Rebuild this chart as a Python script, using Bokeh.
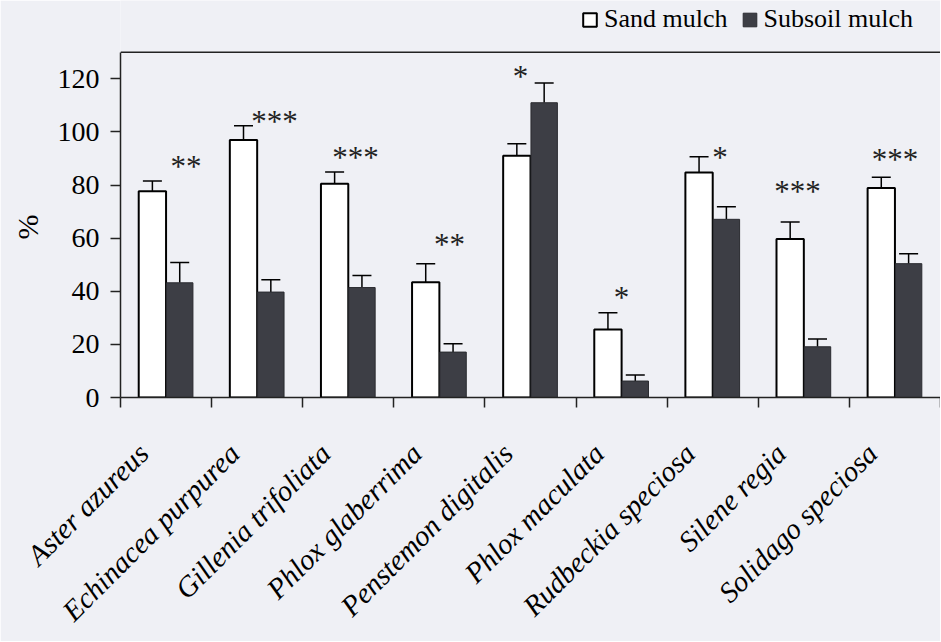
import numpy as np
from math import pi
from bokeh.plotting import figure
from bokeh.models import (Range1d, LinearAxis, FixedTicker, Whisker, Span, Title,
                          ColumnDataSource, Legend, LegendItem, TeeHead)
from bokeh.transform import dodge
from bokeh.core.properties import value
from bokeh.embed import file_html
from bokeh.resources import INLINE

# ---- data ----
categories = ["Aster azureus", "Echinacea purpurea", "Gillenia trifoliata",
              "Phlox glaberrima", "Penstemon digitalis", "Phlox maculata",
              "Rudbeckia speciosa", "Silene regia", "Solidago speciosa"]
sand = [77.7, 97.0, 80.5, 43.4, 91.0, 25.6, 84.7, 59.7, 78.9]
sand_err = [3.8, 5.3, 4.4, 7.0, 4.6, 6.3, 6.0, 6.4, 4.0]
subsoil = [43.2, 39.7, 41.4, 17.1, 111.0, 6.2, 67.1, 19.1, 50.4]
subsoil_err = [7.6, 4.6, 4.5, 3.1, 7.4, 2.3, 4.7, 2.9, 3.7]
signif = ["**", "***", "***", "**", "*", "*", "*", "***", "***"]
signif_y = [88.6, 105.5, 92.0, 59.1, 122.5, 39.1, 91.9, 78.9, 91.0]
signif_dx = [0.22, 0.19, 0.08, 0.11, -0.11, 0.0, 0.08, -0.07, 0.0]
y_ticks = [0, 20, 40, 60, 80, 100, 120]
y_max = 130
y_title = "%"

BG = "#eff0f5"
DARK = "#3d3e45"
FONT = "Liberation Serif"

n = len(categories)
centers = [i + 0.5 for i in range(n)]

src = ColumnDataSource(dict(
    pos=centers, cat=categories, sand=sand, sub=subsoil,
    sand_lo=[v - e for v, e in zip(sand, sand_err)],
    sand_hi=[v + e for v, e in zip(sand, sand_err)],
    sub_hi=[v + e for v, e in zip(subsoil, subsoil_err)],
))

# frame reaches the top of the picture; the chart box ends at y_max,
# the strip above it holds the legend
p = figure(width=940, height=641, x_range=Range1d(0, n),
           y_range=Range1d(0, y_max + 19.5), output_backend="svg",
           toolbar_location=None, x_axis_location=None, y_axis_location=None,
           min_border_left=120, min_border_right=0, min_border_top=0,
           min_border_bottom=242)
p.background_fill_color = BG
p.border_fill_color = BG
p.outline_line_color = None
p.xgrid.visible = False
p.ygrid.visible = False

p.extra_x_ranges = {"lab": Range1d(0.25, n + 0.25)}

# y axis
yaxis = LinearAxis(ticker=FixedTicker(ticks=y_ticks), bounds=(0, y_max),
                   major_tick_out=10, major_tick_in=0, minor_tick_line_color=None,
                   major_label_standoff=11,
                   major_label_text_font=FONT, major_label_text_font_size="28px",
                   major_label_text_color="black",
                   axis_line_color="#222222", axis_line_width=1.5,
                   major_tick_line_color="#222222", major_tick_line_width=1.5)
p.add_layout(yaxis, "left")

# y axis title, centred on the chart box (not on the legend strip)
p.add_layout(Title(text=y_title, align="left", offset=158, standoff=19,
                   vertical_align="middle",
                   text_font=FONT, text_font_size="30px", text_font_style="normal",
                   text_color="black"), "left")

# top line of the chart box
p.add_layout(Span(location=y_max, dimension="width", line_color="#222222",
                  line_width=1.5))

# bottom axis with ticks at category boundaries
bnd = LinearAxis(ticker=FixedTicker(ticks=list(range(n + 1))),
                 major_tick_out=10, major_tick_in=0, minor_tick_line_color=None,
                 major_label_text_font_size="0px", major_label_standoff=0,
                 axis_line_color="#222222", axis_line_width=1.5,
                 major_tick_line_color="#222222", major_tick_line_width=1.5)
p.add_layout(bnd, "below")

# category labels
lab = LinearAxis(x_range_name="lab", ticker=FixedTicker(ticks=centers),
                 major_label_overrides={t: c for t, c in zip(centers, categories)},
                 major_label_orientation=pi / 4, axis_line_color=None,
                 major_tick_line_color=None, minor_tick_line_color=None,
                 major_label_standoff=35,
                 major_label_text_font=FONT, major_label_text_font_style="italic",
                 major_label_text_font_size="29px", major_label_text_color="black")
p.add_layout(lab, "below")

r1 = p.vbar(x=dodge("pos", -0.15), top="sand", width=0.3,
            fill_color="white", line_color="black", line_width=2, source=src)
r2 = p.vbar(x=dodge("pos", 0.15), top="sub", width=0.29,
            fill_color=DARK, line_color="#2a2b30", line_width=1, source=src)

p.add_layout(Whisker(base=dodge("pos", -0.15), upper="sand_hi",
                     lower="sand_lo", source=src, line_width=1.5, line_color="black",
                     upper_head=TeeHead(size=19, line_width=1.5, line_color="black"),
                     lower_head=TeeHead(size=19, line_width=1.5, line_color="black")))
p.add_layout(Whisker(base=dodge("pos", 0.15), upper="sub_hi",
                     lower="sub", source=src, line_width=1.5, line_color="black",
                     upper_head=TeeHead(size=19, line_width=1.5, line_color="black"),
                     lower_head=None))

p.text(x=[c + d for c, d in zip(centers, signif_dx)], y=signif_y, text=signif,
       text_align="center", text_baseline="alphabetic",
       y_offset=4, text_font=value(FONT), text_font_size="31px",
       text_color="#222222")

legend = Legend(items=[LegendItem(label="Sand mulch", renderers=[r1]),
                       LegendItem(label="Subsoil mulch", renderers=[r2])],
                orientation="horizontal", location=(461, 363),
                label_text_font=FONT, label_text_font_size="26px",
                label_text_color="black", glyph_width=17, glyph_height=17,
                label_standoff=6, spacing=13, padding=0, margin=0,
                border_line_color=None, background_fill_alpha=0)
p.add_layout(legend, "center")

open("out.html", "w").write(file_html(p, INLINE))
